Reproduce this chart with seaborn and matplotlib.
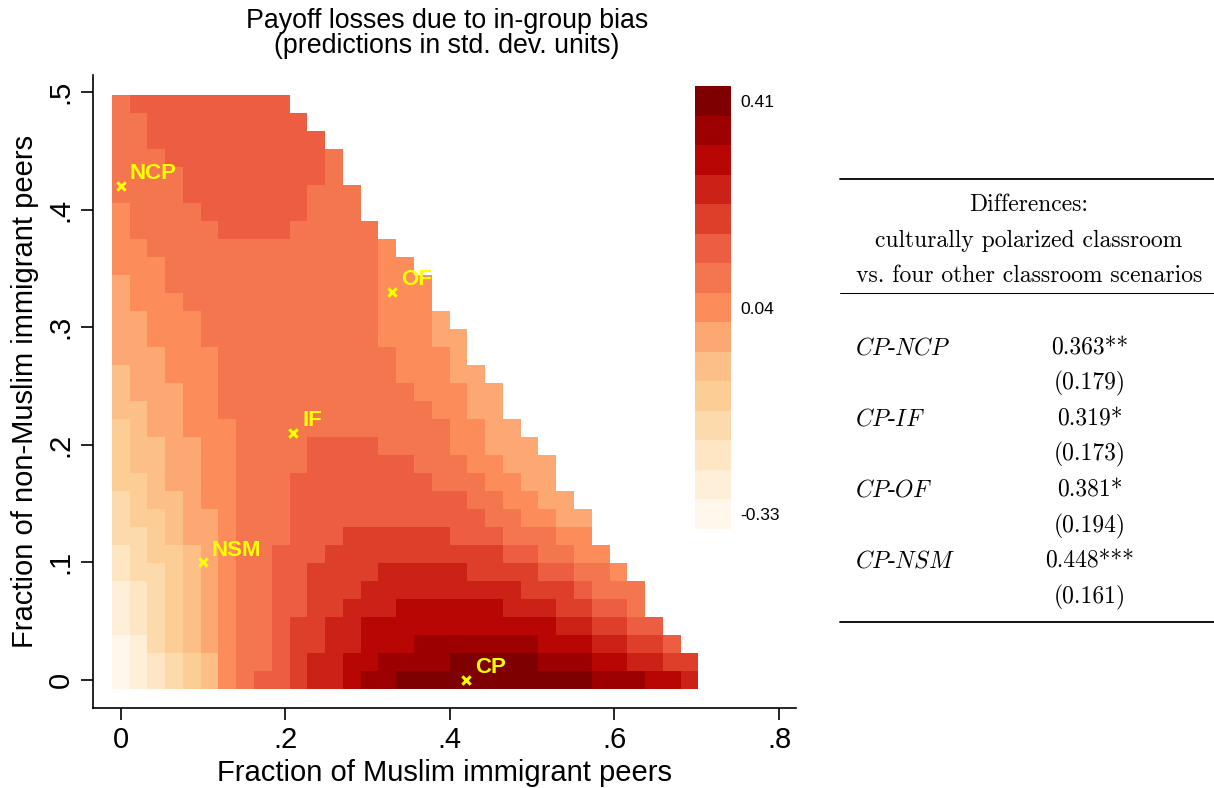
import numpy as np
import matplotlib
matplotlib.use("Agg")
import matplotlib.pyplot as plt
from matplotlib.colors import ListedColormap
import seaborn as sns

# colour class of every grid cell, bottom row (y = 0) first, left to right.
# 0-9 then a-e = the 15 legend classes; each row stops at the triangle edge
level_rows = [
    "0123457899abbcdd" "eeeeeeeeeee" "dddccb",
    "0123457889abbccdddd" "eeeee" "dddccbbaa",
    "0134567889aabbccc" "ddddddd" "cccbbaa9",
    "1234567889aabb" "ccccccccccc" "bbaa99",
    "12345678899aabbb" "cccccc" "bbbaa998",
    "12345678899aaa" "bbbbbbbbb" "aaa9888",
    "23345678899aaaa" "bbbbb" "aaaa99887",
    "234456788999" "aaaaaaaaaa" "998877",
    "3345667888" "999" "aaaaaa" "999" "88877",
    "3445667888" "99999999999" "887766",
    "3455677888" "9999999999" "887766",
    "4456677888" "99999999" "8887766",
    "4556677888" "8999999" "88877666",
    "4556677888" "89999" "888877666",
    "4566777" "888888888888" "7766",
    "556677" "888888888888" "7766",
    "566677" "88888888888" "77766",
    "566777" "8888888888" "77766",
    "666777" "8888888888" "7776",
    "66777" "8888888888" "77766",
    "66777" "8888888888" "7776",
    "6777" "88888888888" "777",
    "677" "888888888888" "777",
    "777" "888888888888" "77",
    "77" "8888888888888" "7",
    "7" "88888" "9999" "88888",
    "7" "8888" "999999" "888",
    "8888" "9999999" "888",
    "8888" "99999999" "8",
    "888" "999999999" "8",
    "88" "9999999999",
    "88" "999999999",
    "8" "999999999",
]

legend_low, legend_high = -0.33, 0.41
legend_ticks = [-0.33, 0.04, 0.41]
legend_labels = ['-0.33', '0.04', '0.41']

# classroom scenarios (fraction Muslim, fraction non-Muslim immigrant peers)
scen_names = ['NCP', 'OF', 'IF', 'NSM', 'CP']
scen_x = [0.0, 0.33, 0.21, 0.10, 0.42]
scen_y = [0.42, 0.33, 0.21, 0.10, 0.0]

x_ticks = [0, .2, .4, .6, .8]
x_ticklabels = ['0', '.2', '.4', '.6', '.8']
y_ticks = [0, .1, .2, .3, .4, .5]
y_ticklabels = ['0', '.1', '.2', '.3', '.4', '.5']

title_lines = ['Payoff losses due to in-group bias',
               '(predictions in std. dev. units)']

tab_head = ['Differences:', 'culturally polarized classroom',
            'vs. four other classroom scenarios']
tab_rows = ['CP-NCP', 'CP-IF', 'CP-OF', 'CP-NSM']
tab_coef = ['0.363', '0.319', '0.381', '0.448']
tab_stars = ['**', '*', '*', '***']
tab_se = ['0.179', '0.173', '0.194', '0.161']

# grid of predictions (class centres), NaN outside the triangle
n_cls = 15
step = (legend_high - legend_low) / (n_cls - 1)
n_row = len(level_rows)
n_col = max(len(r) for r in level_rows)
grid = np.full((n_row, n_col), np.nan)
for j, r in enumerate(level_rows):
    for i, ch in enumerate(r):
        grid[j, i] = legend_low + int(ch, 16) * step

cell_w, cell_h = 0.0216, 0.0153
cmap = ListedColormap(plt.get_cmap('OrRd')(np.linspace(0, 1, n_cls)))

sns.set_style('ticks', {'axes.edgecolor': 'black', 'xtick.color': 'black',
                        'ytick.color': 'black', 'text.color': 'black',
                        'axes.labelcolor': 'black'})
plt.rcParams['font.family'] = ['Liberation Sans', 'DejaVu Sans']
plt.rcParams['mathtext.fontset'] = 'cm'

W, H = 1214, 788
fig = plt.figure(figsize=(W / 100, H / 100), dpi=100)


def px_box(x0, y0, x1, y1):
    return [x0 / W, 1 - y1 / H, (x1 - x0) / W, (y1 - y0) / H]


ax = fig.add_axes(px_box(93, 75, 796, 708))
ax.set_xlim(-0.0336, 0.8206)
ax.set_ylim(-0.0238, 0.5145)
sns.despine(ax=ax)
for s in ['left', 'bottom']:
    ax.spines[s].set_linewidth(1.2)

# heatmap in an inset placed in data coordinates
hm_ax = ax.inset_axes([-cell_w / 2, -cell_h / 2, n_col * cell_w, n_row * cell_h],
                      transform=ax.transData)
hm_ax.set_zorder(0.5)
cax = fig.add_axes(px_box(695, 86, 731, 529))
sns.heatmap(grid[::-1], ax=hm_ax, cmap=cmap,
            vmin=legend_low - step / 2, vmax=legend_high + step / 2,
            cbar_ax=cax, cbar_kws={'ticks': legend_ticks},
            xticklabels=False, yticklabels=False)
hm_ax.set_axis_off()
cb = hm_ax.collections[0].colorbar
cb.outline.set_visible(False)
cb.set_ticklabels(legend_labels)
cax.tick_params(length=0, labelsize=12.6, pad=7)

# scenario markers
sns.scatterplot(x=scen_x, y=scen_y, marker='x', s=36, color='#ffff00',
                linewidth=2.2, ax=ax, zorder=4)
for name, x, y in zip(scen_names, scen_x, scen_y):
    ax.annotate(name, (x, y), xytext=(6.2, 8.8), textcoords='offset points',
                color='#ffff00', fontsize=16, fontweight='bold',
                ha='left', va='center', zorder=5)

ax.set_xticks(x_ticks, x_ticklabels)
ax.set_yticks(y_ticks, y_ticklabels)
ax.tick_params(axis='both', labelsize=21, length=8.3, width=1.2, direction='out')
ax.tick_params(axis='x', pad=4.5)
ax.tick_params(axis='y', labelrotation=90, pad=5)
for lbl in ax.get_yticklabels():
    lbl.set_va('center')

ax.set_xlabel('Fraction of Muslim immigrant peers', fontsize=21)
ax.set_ylabel('Fraction of non-Muslim immigrant peers', fontsize=21)
ax.xaxis.set_label_coords(0.5, -0.0806)
ax.yaxis.set_label_coords(-0.0768, 0.5)

for k, line in enumerate(title_lines):
    fig.text(447 / W, 1 - (28.3 + 24.4 * k) / H, line, ha='center',
             va='baseline', fontsize=19.3)

# table of differences, drawn in pixel-like coordinates
tab = fig.add_axes(px_box(830, 170, 1214, 630))
tab.set_xlim(830, 1214)
tab.set_ylim(630, 170)
tab.set_axis_off()
tab.plot([840, 1214], [179, 179], color='black', lw=1.3)
tab.plot([840, 1214], [293, 293], color='black', lw=0.75)
tab.plot([840, 1214], [622, 622], color='black', lw=1.3)
for k, line in enumerate(tab_head):
    tab.text(1029, 205 + 35.5 * k, line, ha='center', va='center',
             fontfamily='cmr10', fontsize=17)
for k in range(len(tab_rows)):
    yc = 348 + 71.2 * k
    a, b = tab_rows[k].split('-')
    tab.text(855, yc, rf'$\mathit{{{a}}}$-$\mathit{{{b}}}$', ha='left',
             va='center', fontfamily='cmr10', fontsize=17)
    tab.text(1090, yc, tab_coef[k] + tab_stars[k], ha='center',
             va='center', fontfamily='cmr10', fontsize=17)
    tab.text(1090, yc + 35.6, f'({tab_se[k]})', ha='center', va='center',
             fontfamily='cmr10', fontsize=17)

fig.savefig('out.png', dpi=100)
